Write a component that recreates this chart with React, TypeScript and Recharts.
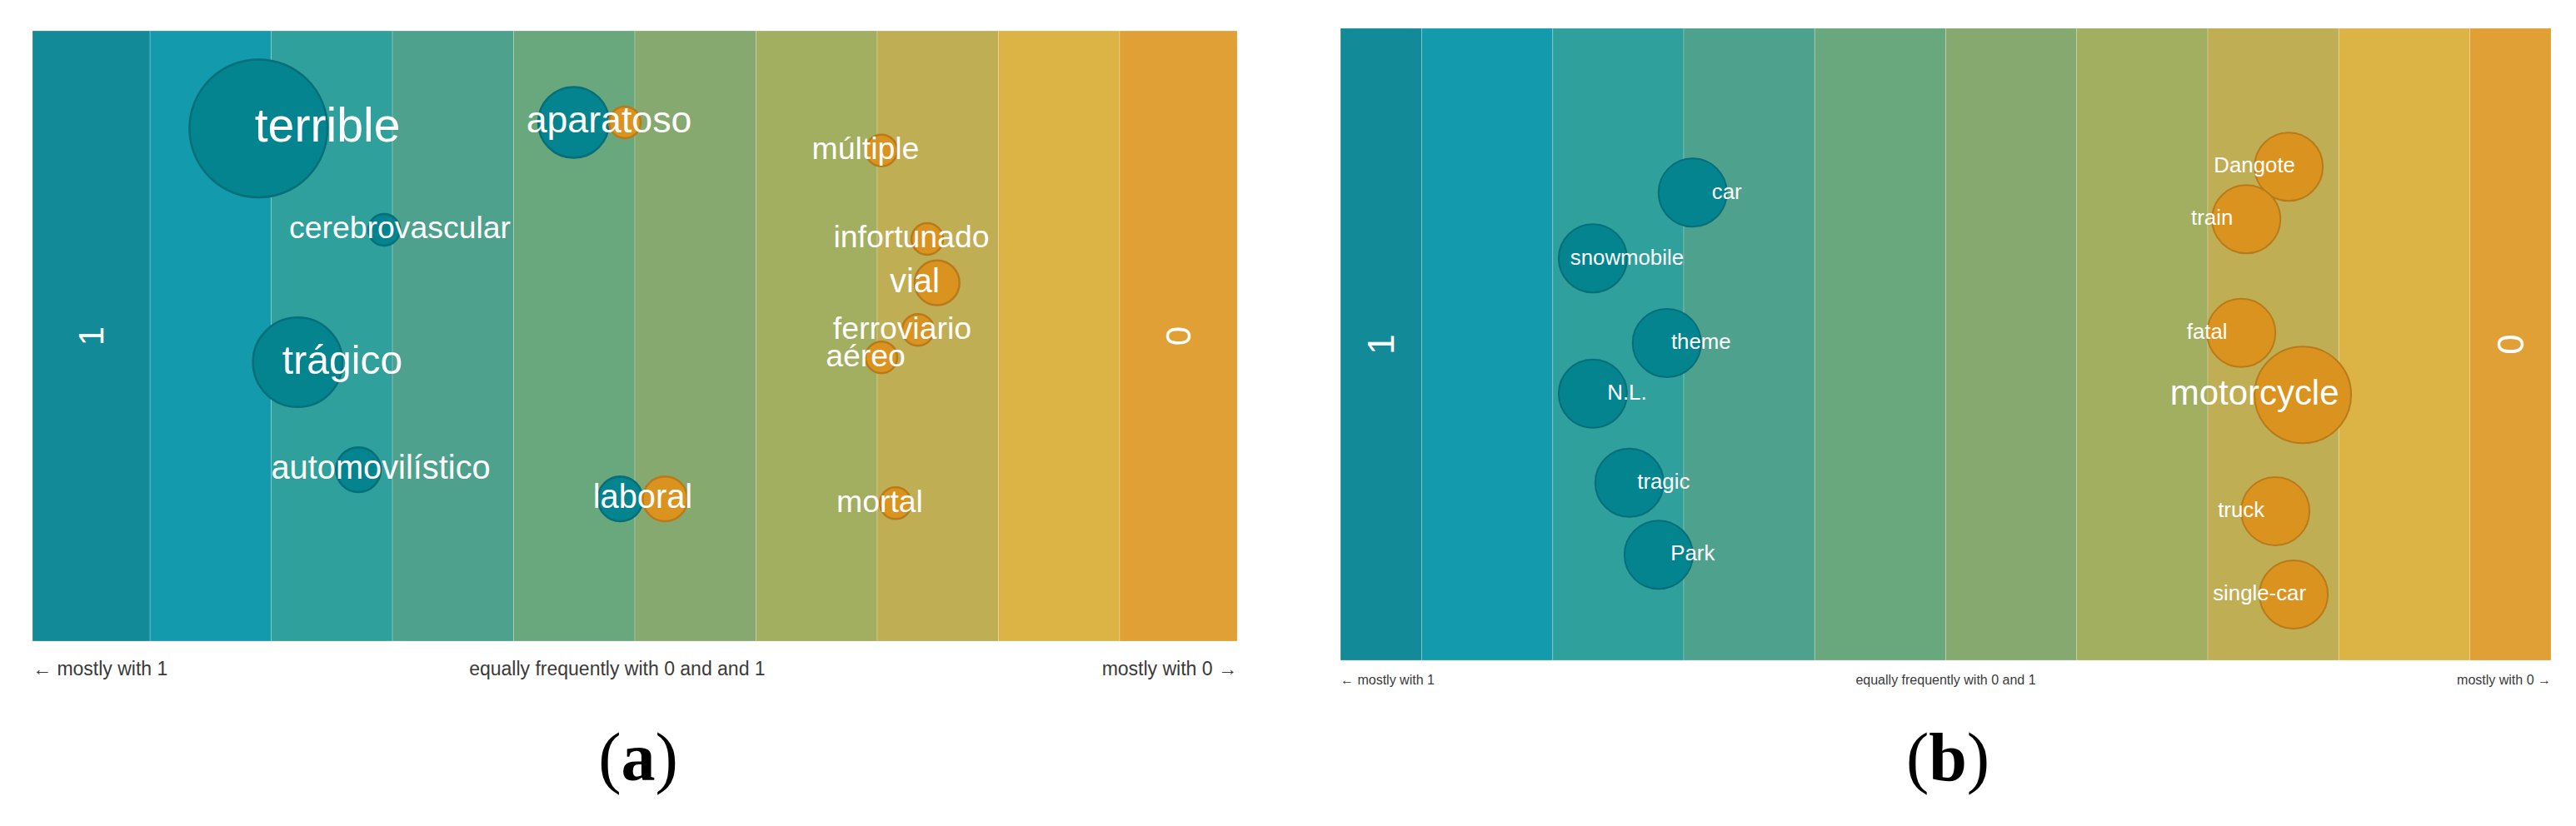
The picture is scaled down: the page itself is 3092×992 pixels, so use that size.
import React from "react";
import { ScatterChart, Scatter, XAxis, YAxis, ReferenceArea } from "recharts";

// ── Shared look ─────────────────────────────────────────────────────
const BAND_COLORS = [
  "#128A98", "#139AAC", "#2FA09C", "#4EA18D", "#69A77C",
  "#86A96F", "#A2AE60", "#C0AE55", "#DCB446", "#E0A035",
];
const TEAL = { fill: "#03848F", stroke: "#066F79" };
const ORANGE = { fill: "#DA931F", stroke: "#B97B19" };
const SANS = "'Liberation Sans', Arial, Helvetica, sans-serif";

// ── Panel (a): Spanish terms ────────────────────────────────────────
const wordsA = [
  "terrible", "cerebrovascular", "aparatoso", "trágico", "automovilístico", "laboral",
  "múltiple", "infortunado", "vial", "ferroviario", "aéreo", "mortal",
];
const scoreA = [-2.536, -1.938, -0.213, -2.412, -2.096, 0.065, 1.904, 2.282, 2.309, 2.206, 1.904, 2.021];
const posA = [0.84, 0.674, 0.85, 0.457, 0.281, 0.233, 0.804, 0.659, 0.587, 0.51, 0.465, 0.226];
const freq1A = [19, 1, 5, 8, 2, 2, 0, 0, 0, 0, 0, 0];
const freq0A = [0, 0, 1, 0, 0, 2, 1, 1, 2, 1, 1, 1];
const axisTicksA = [-4.97, -0.145, 4.97];
const axisLabelsA = ["← mostly with 1", "equally frequently with 0 and and 1", "mostly with 0 →"];

// ── Panel (b): English terms ────────────────────────────────────────
const wordsB = [
  "car", "snowmobile", "theme", "N.L.", "tragic", "Park",
  "Dangote", "train", "fatal", "motorcycle", "truck", "single-car",
];
const scoreB = [-1.671, -2.433, -1.868, -2.433, -2.154, -1.931, 2.357, 2.033, 1.995, 2.357, 2.255, 2.395];
const posB = [0.74, 0.636, 0.502, 0.422, 0.281, 0.167, 0.781, 0.698, 0.518, 0.42, 0.236, 0.104];
const freq1B = [1, 1, 1, 1, 1, 1, 0, 0, 0, 0, 0, 0];
const freq0B = [0, 0, 0, 0, 0, 0, 1, 1, 1, 2, 1, 1];
const axisTicksB = [-4.62, 0, 4.62];
const axisLabelsB = ["← mostly with 1", "equally frequently with 0 and 1", "mostly with 0 →"];

const categoryLabels = ["1", "0"];

type Word = { word: string; x: number; y: number; f1: number; f0: number };

function zipWords(words: string[], xs: number[], ys: number[], f1: number[], f0: number[]): Word[] {
  return words.map((w, i) => ({ word: w, x: xs[i], y: ys[i], f1: f1[i], f0: f0[i] }));
}

type PanelProps = {
  words: Word[];
  xMax: number;
  ticks: number[];
  tickLabels: string[];
  width: number;
  height: number;
  margin: { top: number; right: number; left: number; bottom: number };
  xAxisHeight: number;
  radiusUnit: number;
  strokeWidth: number;
  fontFor: (r: number) => string | number;
  axisFont: number;
  axisDy: number;
  catFont: number;
};

function Panel(p: PanelProps) {
  // band edges: clipped at the domain, integer steps inside
  const edges = [-p.xMax, -4, -3, -2, -1, 0, 1, 2, 3, 4, p.xMax];
  const catData = [
    { x: (edges[0] + edges[1]) / 2, y: 0.5, label: categoryLabels[0] },
    { x: (edges[9] + edges[10]) / 2, y: 0.5, label: categoryLabels[1] },
  ];

  const radii = (d: Word) => [p.radiusUnit * Math.sqrt(d.f1), p.radiusUnit * Math.sqrt(d.f0)];

  const bubbleShape = (props: any) => {
    const { cx, cy, payload } = props;
    const [r1, r0] = radii(payload);
    return (
      <g>
        {r1 > 0 ? (
          <circle cx={cx - r1} cy={cy} r={r1} fill={TEAL.fill} stroke={TEAL.stroke} strokeWidth={p.strokeWidth} />
        ) : null}
        {r0 > 0 ? (
          <circle cx={cx + r0} cy={cy} r={r0} fill={ORANGE.fill} stroke={ORANGE.stroke} strokeWidth={p.strokeWidth} />
        ) : null}
      </g>
    );
  };

  const labelShape = (props: any) => {
    const { cx, cy, payload } = props;
    const [r1, r0] = radii(payload);
    return (
      <text
        x={cx}
        y={cy}
        dy="0.28em"
        textAnchor="middle"
        fill="#ffffff"
        fontFamily={SANS}
        fontSize={p.fontFor(Math.max(r1, r0))}
      >
        {payload.word}
      </text>
    );
  };

  const catShape = (props: any) => {
    const { cx, cy, payload } = props;
    return (
      <text
        x={cx}
        y={cy}
        transform={`rotate(-90 ${cx} ${cy})`}
        textAnchor="middle"
        dominantBaseline="central"
        fill="#ffffff"
        fontFamily={SANS}
        fontSize={p.catFont}
      >
        {payload.label}
      </text>
    );
  };

  const axisTick = (props: any) => {
    const { x, y, payload } = props;
    const i = p.ticks.indexOf(payload.value);
    const anchor = i === 0 ? "start" : i === p.ticks.length - 1 ? "end" : "middle";
    return (
      <text x={x} y={y + p.axisDy} textAnchor={anchor} fill="#3a3a3a" fontFamily={SANS} fontSize={p.axisFont}>
        {p.tickLabels[i] ?? ""}
      </text>
    );
  };

  return (
    <ScatterChart width={p.width} height={p.height} margin={p.margin}>
      <XAxis
        type="number"
        dataKey="x"
        domain={[-p.xMax, p.xMax]}
        allowDataOverflow
        ticks={p.ticks}
        interval={0}
        tick={axisTick}
        tickLine={false}
        axisLine={false}
        tickSize={0}
        tickMargin={0}
        height={p.xAxisHeight}
      />
      <YAxis type="number" dataKey="y" domain={[0, 1]} hide />

      {BAND_COLORS.map((c, i) => (
        <ReferenceArea
          key={i}
          x1={edges[i]}
          x2={edges[i + 1]}
          y1={0}
          y2={1}
          fill={c}
          fillOpacity={1}
          stroke="rgba(255,255,255,0.22)"
          strokeWidth={1}
        />
      ))}

      <Scatter data={p.words} shape={bubbleShape} isAnimationActive={false} />
      <Scatter data={p.words} shape={labelShape} isAnimationActive={false} />
      <Scatter data={catData} shape={catShape} isAnimationActive={false} />
    </ScatterChart>
  );
}

export default function App() {
  const dataA = zipWords(wordsA, scoreA, posA, freq1A, freq0A);
  const dataB = zipWords(wordsB, scoreB, posB, freq1B, freq0B);

  return (
    <div style={{ position: "absolute", left: 0, top: 0, width: 3092, height: 992, background: "#fff" }}>
      <div style={{ position: "absolute", left: 0, top: 0 }}>
        <Panel
          words={dataA}
          xMax={4.97}
          ticks={axisTicksA}
          tickLabels={axisLabelsA}
          width={1546}
          height={900}
          margin={{ top: 37, right: 61, left: 39, bottom: 0 }}
          xAxisHeight={130}
          radiusUnit={19}
          strokeWidth={2.5}
          fontFor={(r) => 31.5 + 0.31 * r}
          axisFont={23}
          axisDy={41}
          catFont={42}
        />
      </div>
      <div style={{ position: "absolute", left: 1546, top: 0 }}>
        <Panel
          words={dataB}
          xMax={4.62}
          ticks={axisTicksB}
          tickLabels={axisLabelsB}
          width={1546}
          height={900}
          margin={{ top: 34, right: 30, left: 63, bottom: 0 }}
          xAxisHeight={107}
          radiusUnit={41}
          strokeWidth={2}
          fontFor={(r) => 25.8 + 0.95 * (r - 41)}
          axisFont={16}
          axisDy={29}
          catFont={44}
        />
      </div>
      <svg
        width={3092}
        height={992}
        style={{ position: "absolute", left: 0, top: 0, pointerEvents: "none" }}
      >
        <text x={766} y={937} textAnchor="middle" fontFamily="'Liberation Serif', 'Times New Roman', serif" fontSize={82} fill="#000">
          (<tspan fontWeight="bold">a</tspan>)
        </text>
        <text x={2338} y={937} textAnchor="middle" fontFamily="'Liberation Serif', 'Times New Roman', serif" fontSize={82} fill="#000">
          (<tspan fontWeight="bold">b</tspan>)
        </text>
      </svg>
    </div>
  );
}
